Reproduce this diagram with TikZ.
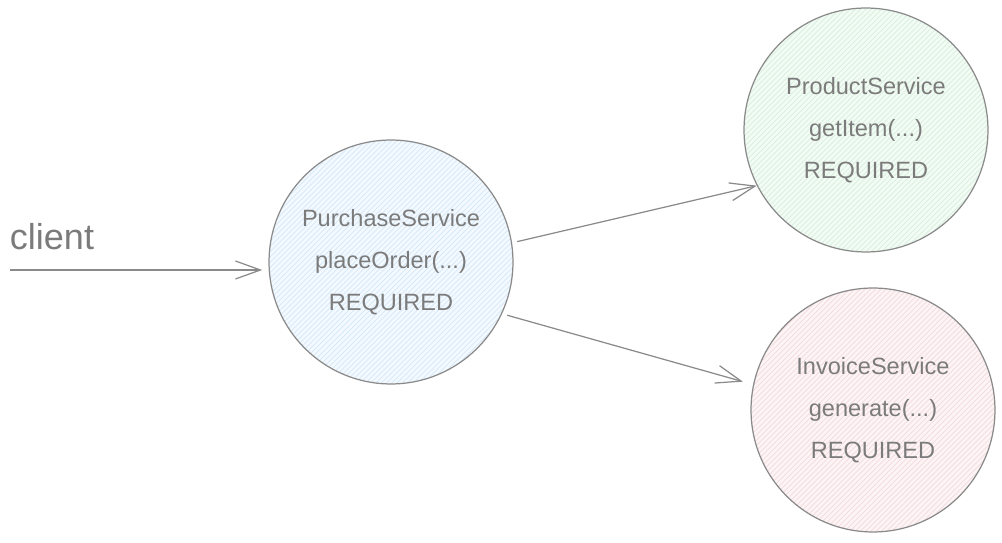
\documentclass[tikz,border=0pt]{standalone}
\usepackage{fontspec}
\setmainfont{Liberation Sans}
\usetikzlibrary{arrows.meta,patterns}

\definecolor{inkgrey}{HTML}{7B7B7B}
\definecolor{rimgrey}{HTML}{8A8A8A}
\definecolor{purchfill}{HTML}{F3F9FE}
\definecolor{purchhatch}{HTML}{D4E8F8}
\definecolor{prodfill}{HTML}{F3FBF5}
\definecolor{prodhatch}{HTML}{D6F0DC}
\definecolor{invfill}{HTML}{FDF4F5}
\definecolor{invhatch}{HTML}{F4DADD}

\tikzset{
  service/.style={circle, draw=rimgrey, line width=0.7pt, minimum size=4.88cm,
    inner sep=0pt, align=center, text=inkgrey,
    font=\fontsize{13.4}{24}\selectfont},
  flowarrow/.style={draw=rimgrey, line width=0.7pt,
    -{Straight Barb[length=0.5cm, width=0.36cm]}}
}

\begin{document}
\begin{tikzpicture}[x=0.02cm, y=-0.02cm]
            \useasboundingbox (0,0) rectangle (1002,543);

            \node[service, preaction={fill=purchfill}, pattern=north east lines,
                  pattern color=purchhatch] (purch) at (391,262)
                  {PurchaseService\\placeOrder(...)\\REQUIRED};
            \node[service, preaction={fill=prodfill}, pattern=north east lines,
                  pattern color=prodhatch] (prod) at (866,130)
                  {ProductService\\getItem(...)\\REQUIRED};
            \node[service, preaction={fill=invfill}, pattern=north east lines,
                  pattern color=invhatch] (inv) at (873,410)
                  {InvoiceService\\generate(...)\\REQUIRED};

            \node[text=inkgrey, font=\fontsize{20.5}{24}\selectfont] (clientlbl) at (52,237) {client};
            \coordinate (clientend) at (10,270);

            \draw[flowarrow, shorten >=3.5pt] (clientend) -- (clientend -| purch.west);
            \draw[flowarrow, shorten <=3pt, shorten >=0pt] (purch.9) -- (prod.207);
            \draw[flowarrow, shorten <=3pt, shorten >=6pt] (purch.335) -- (inv.168);
        \end{tikzpicture}
\end{document}
